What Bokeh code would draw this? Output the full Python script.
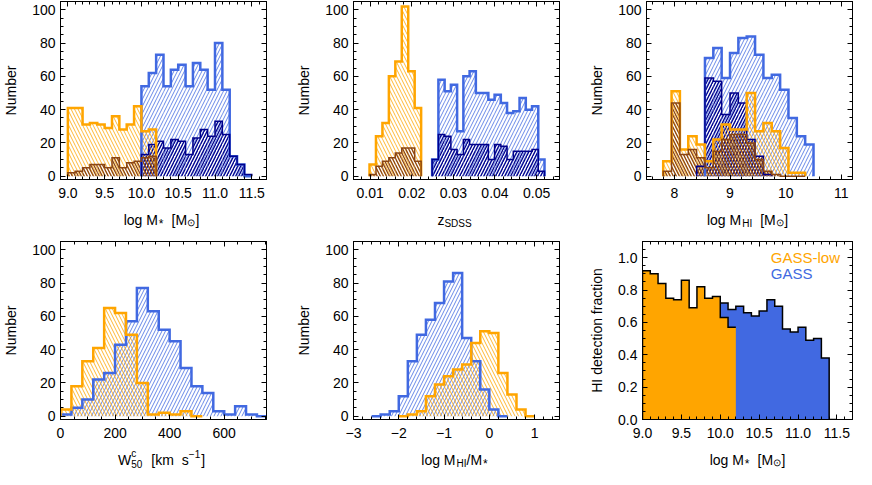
import numpy as np
from bokeh.plotting import figure
from bokeh.models import (Range1d, LinearAxis, SingleIntervalTicker, Label, ColumnDataSource,
                          PrintfTickFormatter, CustomJSTickFormatter)
from bokeh.core.properties import value
from bokeh.layouts import column, row
from bokeh.embed import file_html
from bokeh.resources import INLINE

# ---------------- data ----------------
# Panel 1: log M* [M_sun], bin width 0.1
mstar_bin = 0.1
mstar_low_start = 9.0
mstar_low_all = [41, 41, 31, 32, 31, 29, 36, 28, 31, 42, 27, 28]
mstar_low_sub = [2, 3, 5, 7, 7, 5, 11, 5, 8, 9, 11, 12]
mstar_gass_start = 10.0
mstar_gass_all = [54, 62, 73, 54, 64, 67, 54, 68, 64, 52, 80, 52, 12, 7, 0]
mstar_gass_sub = [13, 19, 21, 17, 22, 21, 13, 23, 28, 24, 33, 25, 12, 7, 1]

# Panel 2: z_SDSS
z_low_start = 0.00985
z_low_bin = 0.00155
z_low_all = [7, 24, 32, 60, 69, 102, 63, 41]
z_low_sub = [1, 6, 9, 11, 14, 17, 17, 9]
z_gass_start = 0.0249
z_gass_bin = 0.0015
z_gass_all = [10, 58, 51, 55, 27, 60, 63, 50, 50, 46, 49, 44, 38, 39, 47, 40, 42, 10]
z_gass_sub = [10, 25, 24, 16, 13, 22, 19, 19, 19, 10, 19, 18, 10, 15, 15, 15, 16, 3]

# Panel 3: log M_HI [M_sun], bin width 0.15
mhi_bin = 0.15
mhi_low_start = 7.8
mhi_low_all = [9, 51, 16, 24, 19, 9, 22, 31, 28, 28, 50, 27, 32, 27, 17, 2, 2]
mhi_low_sub = [3, 44, 13, 16, 11, 5, 15, 22, 25, 25, 20, 10, 3, 1, 0, 0, 0]
mhi_gass_start = 8.55
mhi_gass_all = [71, 77, 59, 74, 83, 84, 73, 59, 61, 52, 35, 24, 19]
mhi_gass_sub_start = 8.4
mhi_gass_sub = [6, 59, 57, 37, 50, 44, 22, 12, 1]

# Panel 4: W50c [km/s], bin width 40
w50_bin = 40
w50_low_start = 0
w50_low_all = [4, 18, 33, 41, 65, 62, 49, 20, 1, 2, 1, 3, 0]
w50_gass_start = 0
w50_gass_all = [1, 5, 10, 22, 26, 43, 57, 77, 63, 52, 45, 29, 18, 14, 3, 1, 6, 1, 0]

# Panel 5: log M_HI/M*, bin width 0.2
gf_bin = 0.2
gf_gass_start = -2.6
gf_gass_all = [0, 1, 3, 12, 33, 49, 58, 68, 81, 86, 47, 33, 16, 4, 0]
gf_low_start = -2.0
gf_low_all = [0, 1, 3, 12, 19, 24, 28, 31, 44, 51, 50, 26, 13, 4, 0]

# Panel 6: HI detection fraction vs log M*, bin width 0.1
frac_bin = 0.1
frac_low_start = 9.0
frac_low = [0.92, 0.90, 0.84, 0.75, 0.74, 0.86, 0.69, 0.82, 0.75, 0.76, 0.63, 0.57]
frac_gass_start = 10.0
frac_gass = [0.72, 0.68, 0.70, 0.66, 0.64, 0.67, 0.74, 0.70, 0.56, 0.54, 0.57, 0.49, 0.50, 0.38, 0.0]

legend_names = ["GASS-low", "GASS"]

# ---------------- style ----------------
FONT = "Liberation Sans"
ORANGE = "#FFA500"
BLUE = "#4169E1"
NAVY = "#00008B"
BROWN = "#8B4513"

AW = {' ': 278, 'l': 222, 'o': 556, 'g': 556, 'M': 833, '[': 278, ']': 278, '*': 389,
      'z': 500, 'S': 667, 'D': 722, 'H': 722, 'I': 278, 'W': 944, 'c': 500, '5': 556,
      '0': 556, 'k': 500, 'm': 833, 's': 500, '\u2212': 584, '1': 556, '/': 278, '\u2299': 838}


def text_w(s, size):
    return sum(AW.get(ch, 556) for ch in s) * size / 1000.0


EMPTY = CustomJSTickFormatter(code="return ''")


def style_axis(ax, labels=True):
    ax.major_tick_in = 5
    ax.major_tick_out = 0
    ax.minor_tick_in = 3
    ax.minor_tick_out = 0
    ax.axis_line_color = "black"
    ax.major_tick_line_color = "black"
    ax.minor_tick_line_color = "black"
    ax.major_label_text_font = FONT
    ax.major_label_text_color = "black"
    if labels:
        ax.major_label_text_font_size = "14px"
    else:
        ax.formatter = EMPTY
        ax.major_label_text_color = None
        ax.major_label_text_font_size = "0px"
        ax.major_label_standoff = 0
        ax.axis_label = None


def make_panel(width, height, xr, yr, bl, br, bt, bb, xint, xminor, yint, yminor, ylabel,
               xfmt=None, yfmt=None):
    p = figure(width=width, height=height, x_range=Range1d(*xr), y_range=Range1d(*yr),
               output_backend="svg", toolbar_location=None, title=None,
               min_border_left=bl, min_border_right=br, min_border_top=bt, min_border_bottom=bb)
    p.grid.visible = False
    p.outline_line_color = "black"
    p.outline_line_width = 1
    p.background_fill_color = "white"
    p.border_fill_color = "white"
    xt = SingleIntervalTicker(interval=xint, num_minor_ticks=xminor)
    yt = SingleIntervalTicker(interval=yint, num_minor_ticks=yminor)
    xa = p.xaxis[0]
    ya = p.yaxis[0]
    xa.ticker = xt
    ya.ticker = yt
    if xfmt:
        xa.formatter = PrintfTickFormatter(format=xfmt)
    if yfmt:
        ya.formatter = PrintfTickFormatter(format=yfmt)
    style_axis(xa)
    style_axis(ya)
    xa.major_label_standoff = 8
    ya.major_label_standoff = 5
    ya.axis_label = ylabel
    ya.axis_label_text_font = FONT
    ya.axis_label_text_font_size = "14px"
    ya.axis_label_text_font_style = "normal"
    ya.axis_label_text_color = "black"
    ya.axis_label_standoff = 10
    top = LinearAxis(ticker=xt)
    style_axis(top, labels=False)
    p.add_layout(top, "above")
    right = LinearAxis(ticker=yt)
    style_axis(right, labels=False)
    p.add_layout(right, "right")
    return p


def make_strip(width, height):
    s = figure(width=width, height=height, x_range=Range1d(0, width), y_range=Range1d(0, height),
               output_backend="svg", toolbar_location=None, title=None, min_border=0,
               min_border_left=0, min_border_right=0, min_border_top=0, min_border_bottom=0,
               x_axis_location=None, y_axis_location=None,
               width_policy="fixed", height_policy="fixed")
    s.outline_line_color = None
    s.grid.visible = False
    s.background_fill_color = "white"
    s.border_fill_color = "white"
    return s


def strip_label(s, xc, y, pieces):
    total = 0.0
    for text, size, dy, gap, adv in pieces:
        total += gap + (text_w(text, size) if adv else 0)
    x = xc - total / 2.0
    for text, size, dy, gap, adv in pieces:
        x += gap
        s.text(x=[x], y=[y + dy], text=[text], text_font=value(FONT),
               text_font_size=value(f"{size}px"), text_color="black",
               text_align="left", text_baseline="alphabetic")
        if adv:
            x += text_w(text, size)


def edges(start, width, n):
    return start + width * np.arange(n + 1)


def step_xy(e, c, close_end=True):
    xs = [e[0]]
    ys = [0]
    for i, v in enumerate(c):
        xs += [e[i], e[i + 1]]
        ys += [v, v]
    if close_end:
        xs.append(e[-1])
        ys.append(0)
    return xs, ys


def hatch_hist(p, start, width, counts, color, pattern, scale=7, weight=1.0, alpha=0.8):
    e = edges(start, width, len(counts))
    src = ColumnDataSource(dict(left=e[:-1], right=e[1:], top=counts, bottom=[0] * len(counts)))
    p.quad(left="left", right="right", top="top", bottom="bottom", source=src,
           fill_alpha=0, line_alpha=0, hatch_pattern=pattern, hatch_color=color,
           hatch_scale=scale, hatch_weight=weight, hatch_alpha=alpha)
    return step_xy(e, counts)


def outline(p, xy, color, lw):
    p.line(xy[0], xy[1], line_color=color, line_width=lw, line_join="miter")


# layout geometry
W1, W2, W3 = 293, 293, 270
BL = 56
R1, R2, R3 = 27, 27, 4
FH = 178
T1, T2 = 1, 12
BB = 24
H1 = T1 + FH + BB
H2 = T2 + FH + BB
SH = 26
YR = (-2, 105)
FC = [BL + 105, W1 + BL + 105, W1 + W2 + BL + 105]   # frame centres in row pixels
SUBDARK = dict(scale=6, weight=1.3, alpha=1)
LBASE = 10

# --- Panel 1 ---
p1 = make_panel(W1, H1, (8.9, 11.7), YR, BL, R1, T1, BB, 0.5, 5, 20, 4, "Number", xfmt="%.1f")
a = hatch_hist(p1, mstar_gass_start, mstar_bin, mstar_gass_all, BLUE, "/")
b = hatch_hist(p1, mstar_gass_start, mstar_bin, mstar_gass_sub, NAVY, "/", **SUBDARK)
c = hatch_hist(p1, mstar_low_start, mstar_bin, mstar_low_all, ORANGE, "\\")
d = hatch_hist(p1, mstar_low_start, mstar_bin, mstar_low_sub, BROWN, "\\", **SUBDARK)
outline(p1, a, BLUE, 2.5)
outline(p1, b, NAVY, 1.5)
outline(p1, c, ORANGE, 2.5)
outline(p1, d, BROWN, 1.5)

# --- Panel 2 ---
p2 = make_panel(W2, H1, (0.006, 0.0555), YR, BL, R2, T1, BB, 0.01, 5, 20, 4, "Number", xfmt="%.2f")
a = hatch_hist(p2, z_gass_start, z_gass_bin, z_gass_all, BLUE, "/")
b = hatch_hist(p2, z_gass_start, z_gass_bin, z_gass_sub, NAVY, "/", **SUBDARK)
c = hatch_hist(p2, z_low_start, z_low_bin, z_low_all, ORANGE, "\\")
d = hatch_hist(p2, z_low_start, z_low_bin, z_low_sub, BROWN, "\\", **SUBDARK)
outline(p2, a, BLUE, 2.5)
outline(p2, b, NAVY, 1.5)
outline(p2, c, ORANGE, 2.5)
outline(p2, d, BROWN, 1.5)

# --- Panel 3 ---
p3 = make_panel(W3, H1, (7.5, 11.2), YR, BL, R3, T1, BB, 1, 5, 20, 4, "Number")
a = hatch_hist(p3, mhi_gass_start, mhi_bin, mhi_gass_all, BLUE, "/")
b = hatch_hist(p3, mhi_gass_sub_start, mhi_bin, mhi_gass_sub, NAVY, "/", **SUBDARK)
c = hatch_hist(p3, mhi_low_start, mhi_bin, mhi_low_all, ORANGE, "\\")
d = hatch_hist(p3, mhi_low_start, mhi_bin, mhi_low_sub, BROWN, "\\", **SUBDARK)
outline(p3, a, BLUE, 2.5)
outline(p3, b, NAVY, 1.5)
outline(p3, c, ORANGE, 2.5)
outline(p3, d, BROWN, 1.5)

# --- Panel 4 ---
p4 = make_panel(W1, H2, (0, 755), YR, BL, R1, T2, BB, 200, 4, 20, 4, "Number")
a = hatch_hist(p4, w50_gass_start, w50_bin, w50_gass_all, BLUE, "/")
c = hatch_hist(p4, w50_low_start, w50_bin, w50_low_all, ORANGE, "\\")
outline(p4, a, BLUE, 2.5)
outline(p4, c, ORANGE, 2.5)

# --- Panel 5 ---
p5 = make_panel(W2, H2, (-3.0, 1.55), YR, BL, R2, T2, BB, 1, 5, 20, 4, "Number")
p5.xaxis[0].major_label_overrides = {-3: "\u22123", -2: "\u22122", -1: "\u22121"}
a = hatch_hist(p5, gf_gass_start, gf_bin, gf_gass_all, BLUE, "/")
c = hatch_hist(p5, gf_low_start, gf_bin, gf_low_all, ORANGE, "\\")
outline(p5, a, BLUE, 2.5)
outline(p5, c, ORANGE, 2.5)

# --- Panel 6 ---
p6 = make_panel(W3, H2, (9.0, 11.7), (0, 1.1), BL, R3, T2, BB, 0.5, 5, 0.2, 4,
                "HI detection fraction", xfmt="%.1f", yfmt="%.1f")
eg = edges(frac_gass_start, frac_bin, len(frac_gass))
el = edges(frac_low_start, frac_bin, len(frac_low))
gx, gy = step_xy(eg, frac_gass)
lx, ly = step_xy(el, frac_low)
p6.patch(gx, gy, fill_color=BLUE, line_color=None)
p6.line(gx, gy, line_color="black", line_width=1.5, line_join="miter")
p6.patch(lx, ly, fill_color=ORANGE, line_color=None)
p6.line(*step_xy(el, frac_low, close_end=False), line_color="black", line_width=1.5, line_join="miter")
p6.add_layout(Label(x=10.65, y=1.0, text=legend_names[0], text_color=ORANGE, text_font=FONT,
                    text_font_size="15px", text_baseline="middle", text_align="left"))
p6.add_layout(Label(x=10.65, y=0.9, text=legend_names[1], text_color=BLUE, text_font=FONT,
                    text_font_size="15px", text_baseline="middle", text_align="left"))

# --- x-axis titles (with sub/superscripts) ---
LOGMSTAR = [("log M", 14, 0, 0, True), ("*", 12, -4, 1, True), ("[M", 14, 0, 8, True),
            ("\u2299", 10, -3, 0, True), ("]", 14, 0, 0, True)]
s1 = make_strip(W1 + W2 + W3, SH)
strip_label(s1, FC[0], LBASE, LOGMSTAR)
strip_label(s1, FC[1], LBASE, [("z", 14, 0, 0, True), ("SDSS", 10, -4, 0, True)])
strip_label(s1, FC[2], LBASE, [("log M", 14, 0, 0, True), ("HI", 10, -4, 1, True), ("[M", 14, 0, 8, True),
                               ("\u2299", 10, -3, 0, True), ("]", 14, 0, 0, True)])
s2 = make_strip(W1 + W2 + W3, SH)
strip_label(s2, FC[0], LBASE, [("W", 14, 0, 0, True), ("c", 10, 6, 0, False), ("50", 10, -4, 0, True),
                               ("[km", 14, 0, 9, True), ("s", 14, 0, 8, True), ("\u22121", 10, 6, 0, True),
                               ("]", 14, 0, 1, True)])
strip_label(s2, FC[1], LBASE, [("log M", 14, 0, 0, True), ("HI", 10, -4, 1, True), ("/M", 14, 0, 0, True),
                               ("*", 12, -4, 1, True)])
strip_label(s2, FC[2], LBASE, LOGMSTAR)

layout = column(row(p1, p2, p3, spacing=0), s1, row(p4, p5, p6, spacing=0), s2, spacing=0)
open("out.html", "w").write(file_html(layout, INLINE))
